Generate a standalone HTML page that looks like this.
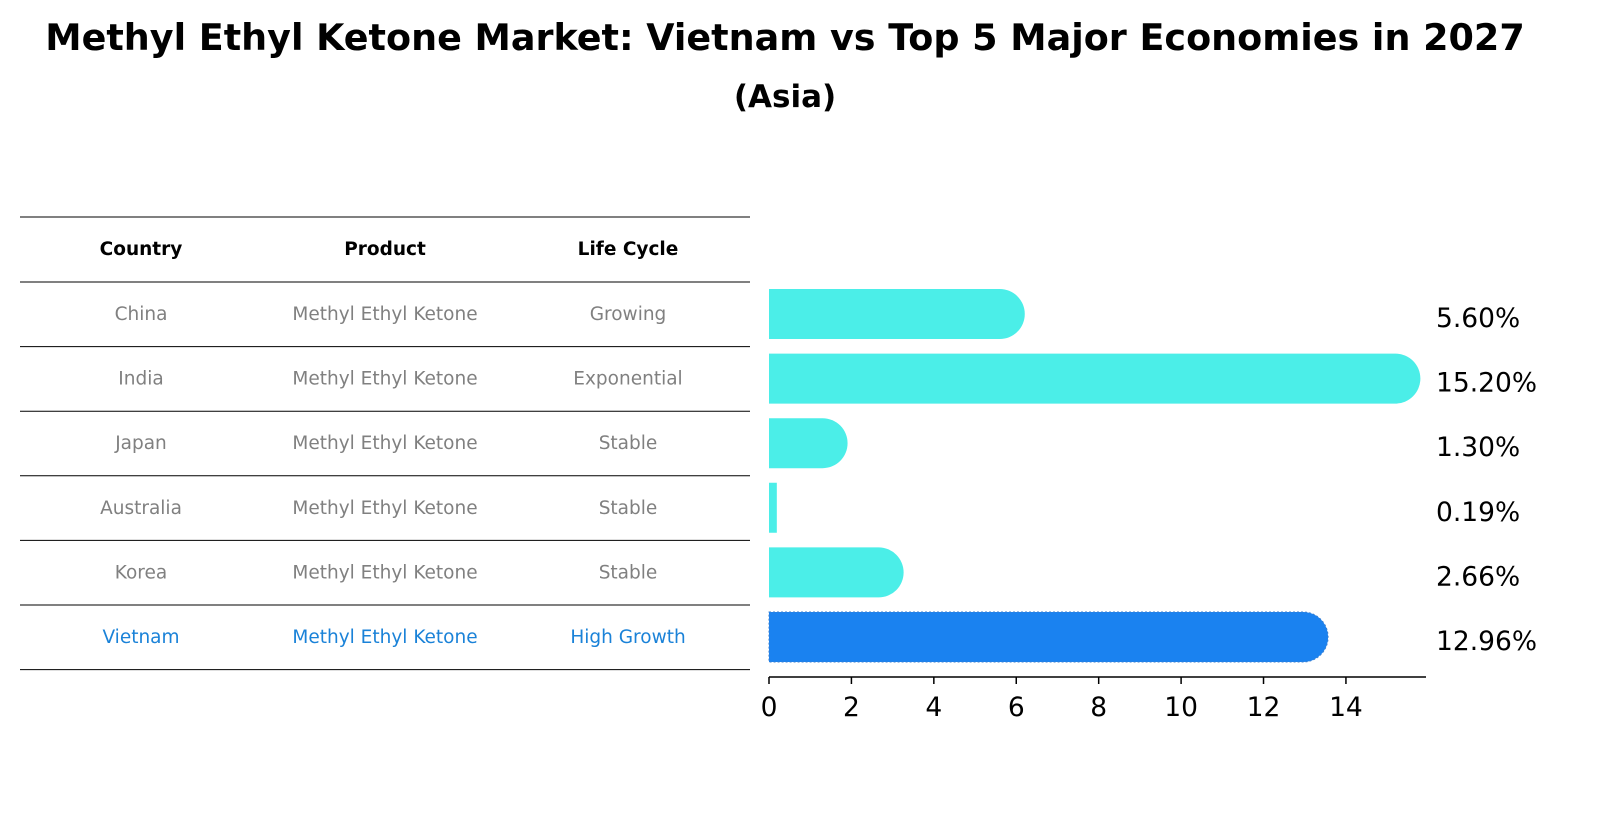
<!DOCTYPE html>
<html><head><meta charset="utf-8"><style>
body{margin:0;background:#fff;}
svg{display:block;font-family:"DejaVu Sans","Liberation Sans",sans-serif;}
</style></head><body>
<svg width="1614" height="823" viewBox="0 0 1614 823">
<text x="785" y="50" text-anchor="middle" font-size="36.5" font-weight="bold">Methyl Ethyl Ketone Market: Vietnam vs Top 5 Major Economies in 2027</text>
<text x="785" y="107" text-anchor="middle" font-size="31" font-weight="bold">(Asia)</text>
<g id="table"></g>
<g id="bars"></g>
</svg>
<script>
const countries=["China","India","Japan","Australia","Korea","Vietnam"];
const products=["Methyl Ethyl Ketone","Methyl Ethyl Ketone","Methyl Ethyl Ketone","Methyl Ethyl Ketone","Methyl Ethyl Ketone","Methyl Ethyl Ketone"];
const lifeCycles=["Growing","Exponential","Stable","Stable","Stable","High Growth"];
const values=[5.60,15.20,1.30,0.19,2.66,12.96];
const valueLabels=["5.60%","15.20%","1.30%","0.19%","2.66%","12.96%"];
const ticks=[0,2,4,6,8,10,12,14];

const NS="http://www.w3.org/2000/svg";
function mk(tag,attrs,parent){const e=document.createElementNS(NS,tag);for(const k in attrs)e.setAttribute(k,attrs[k]);parent.appendChild(e);return e;}
const tbl=document.getElementById('table'),bars=document.getElementById('bars');
const rowY=i=>314+i*64.6;
const xS=v=>769+v*41.21;
for(let i=0;i<8;i++){
  const y=i==0?217:282+(i-1)*64.6;
  const l=mk('line',{x1:20,x2:750,y1:y,y2:y,stroke:'#000','stroke-width':1},tbl);
  
  
}
const cx=[141,385,628];
["Country","Product","Life Cycle"].forEach((h,j)=>{
  const t=mk('text',{x:cx[j],y:255,'text-anchor':'middle','font-size':18.5,'font-weight':'bold'},tbl);
  t.textContent=h;
  
  
});
countries.forEach((c,i)=>{
  const col=i==5?'#1a82d8':'#808080';
  [c,products[i],lifeCycles[i]].forEach((s,j)=>{
    const t=mk('text',{x:cx[j],y:rowY(i)+6,'text-anchor':'middle','font-size':18.5,fill:col},tbl);
    t.textContent=s;
    
    
  });
  const v=values[i],x1=xS(v),h=50,y0=rowY(i)-25;
  const color=i==5?'#1a82f0':'#4beee8';
  const w=x1-769;
  let d;
  if(w>25){d=`M769 ${y0} H${x1} A25 25 0 0 1 ${x1} ${y0+h} H769 Z`;}
  else{d=`M769 ${y0} H${x1} V${y0+h} H769 Z`;}
  const p=mk('path',{d:d,fill:color},bars);
  if(i==5){p.setAttribute('stroke','#3a7fd0');p.setAttribute('stroke-dasharray','2 2');p.setAttribute('stroke-width','1');}
  
  
  const t=mk('text',{x:1436,y:rowY(i)+13,'font-size':26.5},bars);
  t.textContent=valueLabels[i];
  
  
});
const ax=mk('line',{x1:769,x2:1426,y1:677,y2:677,stroke:'#000','stroke-width':1.5},bars);


ticks.forEach(v=>{
  const l=mk('line',{x1:xS(v),x2:xS(v),y1:677,y2:684,stroke:'#000','stroke-width':1.5},bars);
  
  
  const t=mk('text',{x:xS(v),y:716,'text-anchor':'middle','font-size':26.5},bars);
  t.textContent=v;
  
  
});
</script>
</body></html>
